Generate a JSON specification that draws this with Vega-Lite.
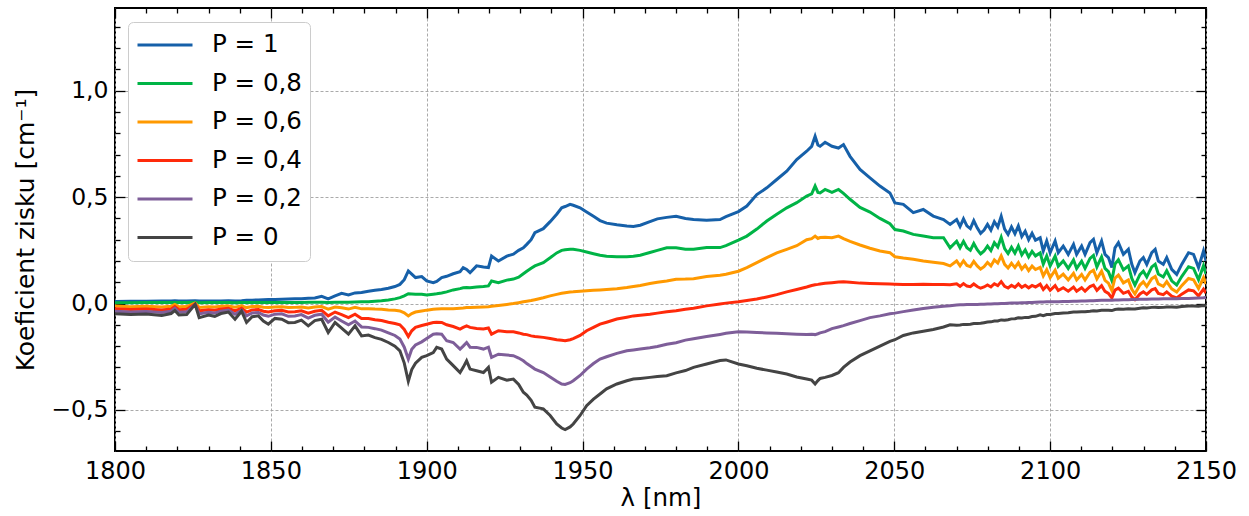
{
  "$schema": "https://vega.github.io/schema/vega-lite/v6.json",
  "width": 1091,
  "height": 443,
  "autosize": "none",
  "padding": {"left": 115, "top": 8, "right": 43, "bottom": 65},
  "background": "white",
  "config": {
    "view": {"stroke": "black", "strokeWidth": 2},
    "font": "DejaVu Sans",
    "axis": {"domain": false, "tickColor": "black", "tickWidth": 1.3, "labelColor": "black", "labelFont": "DejaVu Sans", "titleFont": "DejaVu Sans", "titleColor": "black", "titleFontWeight": "normal", "labelFlush": false, "labelOverlap": false, "labelBound": false}
  },
  "data": {"values": [
    {"l":1800,"a":0.010,"b":0.004,"c":-0.012,"d":-0.025,"e":-0.036,"f":-0.048},
    {"l":1805,"a":0.011,"b":0.004,"c":-0.015,"d":-0.028,"e":-0.040,"f":-0.052},
    {"l":1810,"a":0.011,"b":0.005,"c":-0.013,"d":-0.026,"e":-0.037,"f":-0.049},
    {"l":1815,"a":0.012,"b":0.005,"c":-0.016,"d":-0.030,"e":-0.042,"f":-0.056},
    {"l":1818,"a":0.012,"b":0.005,"c":-0.013,"d":-0.026,"e":-0.036,"f":-0.047},
    {"l":1819.2,"a":0.013,"b":0.005,"c":-0.004,"d":-0.014,"e":-0.022,"f":-0.033},
    {"l":1820.5,"a":0.012,"b":0.005,"c":-0.015,"d":-0.029,"e":-0.041,"f":-0.054},
    {"l":1823,"a":0.012,"b":0.005,"c":-0.014,"d":-0.027,"e":-0.039,"f":-0.052},
    {"l":1825.7,"a":0.013,"b":0.006,"c":0.002,"d":-0.002,"e":-0.004,"f":-0.004},
    {"l":1827,"a":0.012,"b":0.004,"c":-0.018,"d":-0.034,"e":-0.048,"f":-0.066},
    {"l":1830,"a":0.012,"b":0.005,"c":-0.015,"d":-0.029,"e":-0.041,"f":-0.054},
    {"l":1832,"a":0.012,"b":0.005,"c":-0.016,"d":-0.031,"e":-0.044,"f":-0.060},
    {"l":1834,"a":0.012,"b":0.005,"c":-0.013,"d":-0.026,"e":-0.036,"f":-0.047},
    {"l":1836.4,"a":0.013,"b":0.005,"c":-0.011,"d":-0.022,"e":-0.031,"f":-0.040},
    {"l":1838.5,"a":0.012,"b":0.004,"c":-0.017,"d":-0.035,"e":-0.050,"f":-0.074},
    {"l":1840.6,"a":0.013,"b":0.005,"c":-0.011,"d":-0.022,"e":-0.031,"f":-0.036},
    {"l":1842.2,"a":0.015,"b":0.005,"c":-0.019,"d":-0.040,"e":-0.058,"f":-0.089},
    {"l":1844,"a":0.016,"b":0.005,"c":-0.014,"d":-0.030,"e":-0.044,"f":-0.062},
    {"l":1846,"a":0.017,"b":0.005,"c":-0.013,"d":-0.028,"e":-0.042,"f":-0.058},
    {"l":1847.6,"a":0.018,"b":0.005,"c":-0.017,"d":-0.036,"e":-0.054,"f":-0.082},
    {"l":1849.2,"a":0.019,"b":0.005,"c":-0.019,"d":-0.040,"e":-0.060,"f":-0.097},
    {"l":1851.3,"a":0.019,"b":0.005,"c":-0.016,"d":-0.034,"e":-0.050,"f":-0.070},
    {"l":1853.5,"a":0.020,"b":0.005,"c":-0.015,"d":-0.032,"e":-0.048,"f":-0.074},
    {"l":1855.6,"a":0.021,"b":0.005,"c":-0.019,"d":-0.040,"e":-0.060,"f":-0.090},
    {"l":1857.7,"a":0.022,"b":0.005,"c":-0.018,"d":-0.038,"e":-0.058,"f":-0.089},
    {"l":1859.8,"a":0.023,"b":0.005,"c":-0.016,"d":-0.034,"e":-0.052,"f":-0.078},
    {"l":1862,"a":0.025,"b":0.006,"c":-0.021,"d":-0.045,"e":-0.068,"f":-0.105},
    {"l":1864.1,"a":0.026,"b":0.006,"c":-0.016,"d":-0.036,"e":-0.055,"f":-0.080},
    {"l":1866.3,"a":0.034,"b":0.006,"c":-0.014,"d":-0.032,"e":-0.050,"f":-0.074},
    {"l":1868.4,"a":0.022,"b":0.005,"c":-0.026,"d":-0.058,"e":-0.088,"f":-0.136},
    {"l":1870.6,"a":0.036,"b":0.006,"c":-0.016,"d":-0.040,"e":-0.064,"f":-0.089},
    {"l":1872.7,"a":0.048,"b":0.006,"c":-0.020,"d":-0.052,"e":-0.082,"f":-0.115},
    {"l":1874.9,"a":0.040,"b":0.006,"c":-0.026,"d":-0.066,"e":-0.100,"f":-0.144},
    {"l":1877,"a":0.050,"b":0.007,"c":-0.018,"d":-0.050,"e":-0.082,"f":-0.105},
    {"l":1879.1,"a":0.052,"b":0.008,"c":-0.025,"d":-0.070,"e":-0.110,"f":-0.152},
    {"l":1881.3,"a":0.058,"b":0.009,"c":-0.024,"d":-0.070,"e":-0.112,"f":-0.148},
    {"l":1883.4,"a":0.062,"b":0.011,"c":-0.026,"d":-0.076,"e":-0.118,"f":-0.160},
    {"l":1885.5,"a":0.066,"b":0.013,"c":-0.027,"d":-0.080,"e":-0.125,"f":-0.168},
    {"l":1887.7,"a":0.072,"b":0.017,"c":-0.030,"d":-0.088,"e":-0.138,"f":-0.183},
    {"l":1889.8,"a":0.080,"b":0.022,"c":-0.032,"d":-0.094,"e":-0.150,"f":-0.200},
    {"l":1891.4,"a":0.090,"b":0.028,"c":-0.035,"d":-0.100,"e":-0.167,"f":-0.222},
    {"l":1892.8,"a":0.112,"b":0.036,"c":-0.044,"d":-0.122,"e":-0.205,"f":-0.280},
    {"l":1894.1,"a":0.153,"b":0.046,"c":-0.058,"d":-0.155,"e":-0.261,"f":-0.365},
    {"l":1895.2,"a":0.138,"b":0.045,"c":-0.047,"d":-0.128,"e":-0.215,"f":-0.310},
    {"l":1896.4,"a":0.122,"b":0.044,"c":-0.040,"d":-0.112,"e":-0.195,"f":-0.280},
    {"l":1898.4,"a":0.127,"b":0.044,"c":-0.035,"d":-0.103,"e":-0.180,"f":-0.253},
    {"l":1900,"a":0.106,"b":0.040,"c":-0.031,"d":-0.097,"e":-0.164,"f":-0.245},
    {"l":1902.1,"a":0.098,"b":0.044,"c":-0.027,"d":-0.089,"e":-0.144,"f":-0.230},
    {"l":1903.2,"a":0.104,"b":0.046,"c":-0.026,"d":-0.088,"e":-0.142,"f":-0.206},
    {"l":1904.8,"a":0.122,"b":0.050,"c":-0.025,"d":-0.089,"e":-0.144,"f":-0.214},
    {"l":1906.4,"a":0.128,"b":0.055,"c":-0.025,"d":-0.100,"e":-0.175,"f":-0.261},
    {"l":1908.5,"a":0.140,"b":0.064,"c":-0.024,"d":-0.108,"e":-0.183,"f":-0.292},
    {"l":1910.7,"a":0.150,"b":0.070,"c":-0.022,"d":-0.120,"e":-0.214,"f":-0.324},
    {"l":1911.7,"a":0.169,"b":0.074,"c":-0.021,"d":-0.112,"e":-0.200,"f":-0.300},
    {"l":1912.8,"a":0.160,"b":0.075,"c":-0.019,"d":-0.105,"e":-0.183,"f":-0.269},
    {"l":1913.9,"a":0.145,"b":0.074,"c":-0.019,"d":-0.112,"e":-0.205,"f":-0.308},
    {"l":1916,"a":0.177,"b":0.078,"c":-0.017,"d":-0.117,"e":-0.206,"f":-0.316},
    {"l":1918.2,"a":0.172,"b":0.080,"c":-0.016,"d":-0.120,"e":-0.214,"f":-0.324},
    {"l":1919.8,"a":0.169,"b":0.083,"c":-0.015,"d":-0.115,"e":-0.205,"f":-0.300},
    {"l":1920.8,"a":0.223,"b":0.106,"c":-0.013,"d":-0.144,"e":-0.253,"f":-0.370},
    {"l":1923,"a":0.200,"b":0.098,"c":-0.009,"d":-0.128,"e":-0.238,"f":-0.347},
    {"l":1925.7,"a":0.223,"b":0.110,"c":-0.004,"d":-0.132,"e":-0.242,"f":-0.360},
    {"l":1927.8,"a":0.232,"b":0.115,"c":0.000,"d":-0.133,"e":-0.245,"f":-0.355},
    {"l":1929.5,"a":0.250,"b":0.124,"c":0.004,"d":-0.138,"e":-0.256,"f":-0.380},
    {"l":1931,"a":0.262,"b":0.140,"c":0.008,"d":-0.144,"e":-0.269,"f":-0.417},
    {"l":1932.1,"a":0.278,"b":0.152,"c":0.011,"d":-0.146,"e":-0.282,"f":-0.430},
    {"l":1933.5,"a":0.300,"b":0.166,"c":0.014,"d":-0.152,"e":-0.296,"f":-0.455},
    {"l":1934.7,"a":0.333,"b":0.177,"c":0.018,"d":-0.155,"e":-0.308,"f":-0.487},
    {"l":1937.4,"a":0.352,"b":0.192,"c":0.027,"d":-0.159,"e":-0.324,"f":-0.495},
    {"l":1939.6,"a":0.385,"b":0.215,"c":0.036,"d":-0.164,"e":-0.345,"f":-0.526},
    {"l":1941.7,"a":0.420,"b":0.238,"c":0.043,"d":-0.170,"e":-0.365,"f":-0.566},
    {"l":1943.3,"a":0.450,"b":0.250,"c":0.048,"d":-0.173,"e":-0.378,"f":-0.585},
    {"l":1944.4,"a":0.456,"b":0.253,"c":0.051,"d":-0.175,"e":-0.380,"f":-0.592},
    {"l":1946,"a":0.466,"b":0.255,"c":0.054,"d":-0.170,"e":-0.372,"f":-0.580},
    {"l":1947,"a":0.462,"b":0.255,"c":0.055,"d":-0.165,"e":-0.363,"f":-0.566},
    {"l":1949.2,"a":0.450,"b":0.250,"c":0.058,"d":-0.150,"e":-0.338,"f":-0.526},
    {"l":1951.3,"a":0.430,"b":0.242,"c":0.060,"d":-0.128,"e":-0.308,"f":-0.480},
    {"l":1953.5,"a":0.410,"b":0.234,"c":0.062,"d":-0.112,"e":-0.282,"f":-0.449},
    {"l":1955.6,"a":0.390,"b":0.227,"c":0.064,"d":-0.097,"e":-0.261,"f":-0.425},
    {"l":1957.7,"a":0.378,"b":0.222,"c":0.066,"d":-0.088,"e":-0.250,"f":-0.401},
    {"l":1961,"a":0.370,"b":0.220,"c":0.070,"d":-0.073,"e":-0.234,"f":-0.378},
    {"l":1964.2,"a":0.364,"b":0.220,"c":0.075,"d":-0.064,"e":-0.222,"f":-0.363},
    {"l":1966.3,"a":0.362,"b":0.222,"c":0.080,"d":-0.058,"e":-0.218,"f":-0.355},
    {"l":1968.5,"a":0.368,"b":0.227,"c":0.085,"d":-0.055,"e":-0.214,"f":-0.352},
    {"l":1971.6,"a":0.385,"b":0.240,"c":0.094,"d":-0.050,"e":-0.208,"f":-0.347},
    {"l":1974,"a":0.398,"b":0.250,"c":0.100,"d":-0.045,"e":-0.202,"f":-0.343},
    {"l":1977,"a":0.405,"b":0.262,"c":0.106,"d":-0.039,"e":-0.191,"f":-0.339},
    {"l":1980,"a":0.410,"b":0.262,"c":0.114,"d":-0.034,"e":-0.184,"f":-0.326},
    {"l":1983,"a":0.400,"b":0.255,"c":0.115,"d":-0.027,"e":-0.172,"f":-0.315},
    {"l":1985.6,"a":0.395,"b":0.255,"c":0.117,"d":-0.022,"e":-0.165,"f":-0.300},
    {"l":1989.8,"a":0.392,"b":0.263,"c":0.127,"d":-0.011,"e":-0.155,"f":-0.284},
    {"l":1994.1,"a":0.395,"b":0.263,"c":0.133,"d":-0.002,"e":-0.145,"f":-0.268},
    {"l":1996,"a":0.408,"b":0.272,"c":0.138,"d":0.002,"e":-0.140,"f":-0.265},
    {"l":2000,"a":0.432,"b":0.298,"c":0.152,"d":0.008,"e":-0.133,"f":-0.284},
    {"l":2002.7,"a":0.458,"b":0.317,"c":0.169,"d":0.014,"e":-0.134,"f":-0.292},
    {"l":2005.9,"a":0.512,"b":0.350,"c":0.192,"d":0.021,"e":-0.136,"f":-0.304},
    {"l":2009.1,"a":0.544,"b":0.388,"c":0.216,"d":0.031,"e":-0.138,"f":-0.313},
    {"l":2012.3,"a":0.583,"b":0.420,"c":0.238,"d":0.042,"e":-0.140,"f":-0.322},
    {"l":2015.5,"a":0.622,"b":0.450,"c":0.255,"d":0.055,"e":-0.142,"f":-0.331},
    {"l":2018.7,"a":0.677,"b":0.474,"c":0.272,"d":0.066,"e":-0.144,"f":-0.345},
    {"l":2021.9,"a":0.716,"b":0.505,"c":0.300,"d":0.078,"e":-0.145,"f":-0.355},
    {"l":2023.5,"a":0.739,"b":0.515,"c":0.305,"d":0.085,"e":-0.144,"f":-0.360},
    {"l":2024.6,"a":0.786,"b":0.552,"c":0.317,"d":0.088,"e":-0.146,"f":-0.378},
    {"l":2025.5,"a":0.745,"b":0.522,"c":0.306,"d":0.090,"e":-0.142,"f":-0.362},
    {"l":2026.2,"a":0.739,"b":0.520,"c":0.310,"d":0.092,"e":-0.138,"f":-0.352},
    {"l":2027.8,"a":0.758,"b":0.536,"c":0.312,"d":0.095,"e":-0.132,"f":-0.347},
    {"l":2030,"a":0.739,"b":0.522,"c":0.309,"d":0.098,"e":-0.118,"f":-0.338},
    {"l":2032.1,"a":0.731,"b":0.536,"c":0.317,"d":0.101,"e":-0.110,"f":-0.325},
    {"l":2033.7,"a":0.747,"b":0.518,"c":0.305,"d":0.102,"e":-0.104,"f":-0.300},
    {"l":2035.8,"a":0.692,"b":0.490,"c":0.292,"d":0.100,"e":-0.094,"f":-0.275},
    {"l":2039,"a":0.630,"b":0.452,"c":0.275,"d":0.096,"e":-0.080,"f":-0.245},
    {"l":2042.2,"a":0.591,"b":0.430,"c":0.260,"d":0.094,"e":-0.066,"f":-0.222},
    {"l":2045.4,"a":0.552,"b":0.400,"c":0.247,"d":0.093,"e":-0.058,"f":-0.200},
    {"l":2048.6,"a":0.520,"b":0.375,"c":0.239,"d":0.092,"e":-0.048,"f":-0.178},
    {"l":2050.2,"a":0.473,"b":0.348,"c":0.220,"d":0.091,"e":-0.045,"f":-0.170},
    {"l":2052.9,"a":0.466,"b":0.341,"c":0.214,"d":0.090,"e":-0.038,"f":-0.150},
    {"l":2056.1,"a":0.427,"b":0.325,"c":0.208,"d":0.089,"e":-0.030,"f":-0.138},
    {"l":2059.3,"a":0.442,"b":0.317,"c":0.200,"d":0.091,"e":-0.023,"f":-0.130},
    {"l":2062.5,"a":0.411,"b":0.309,"c":0.194,"d":0.090,"e":-0.017,"f":-0.122},
    {"l":2065.8,"a":0.395,"b":0.309,"c":0.188,"d":0.089,"e":-0.013,"f":-0.110},
    {"l":2067.9,"a":0.372,"b":0.262,"c":0.177,"d":0.088,"e":-0.010,"f":-0.100},
    {"l":2070.0,"a":0.395,"b":0.293,"c":0.200,"d":0.093,"e":-0.007,"f":-0.102},
    {"l":2071.1,"a":0.362,"b":0.262,"c":0.177,"d":0.081,"e":-0.006,"f":-0.101},
    {"l":2072.2,"a":0.398,"b":0.292,"c":0.201,"d":0.094,"e":-0.006,"f":-0.098},
    {"l":2073.3,"a":0.365,"b":0.262,"c":0.179,"d":0.082,"e":-0.005,"f":-0.098},
    {"l":2074.4,"a":0.352,"b":0.250,"c":0.173,"d":0.079,"e":-0.005,"f":-0.097},
    {"l":2075.5,"a":0.390,"b":0.282,"c":0.198,"d":0.092,"e":-0.004,"f":-0.094},
    {"l":2076.6,"a":0.356,"b":0.253,"c":0.177,"d":0.080,"e":-0.004,"f":-0.094},
    {"l":2077.7,"a":0.330,"b":0.233,"c":0.162,"d":0.072,"e":-0.003,"f":-0.093},
    {"l":2078.8,"a":0.345,"b":0.247,"c":0.173,"d":0.078,"e":-0.003,"f":-0.090},
    {"l":2079.9,"a":0.372,"b":0.270,"c":0.193,"d":0.087,"e":-0.002,"f":-0.087},
    {"l":2081.0,"a":0.345,"b":0.249,"c":0.177,"d":0.078,"e":-0.002,"f":-0.086},
    {"l":2082.1,"a":0.385,"b":0.286,"c":0.205,"d":0.093,"e":-0.001,"f":-0.082},
    {"l":2083.2,"a":0.360,"b":0.266,"c":0.190,"d":0.084,"e":-0.001,"f":-0.082},
    {"l":2084.3,"a":0.410,"b":0.311,"c":0.224,"d":0.103,"e":0.000,"f":-0.077},
    {"l":2085.4,"a":0.350,"b":0.258,"c":0.184,"d":0.081,"e":0.000,"f":-0.078},
    {"l":2086.5,"a":0.325,"b":0.235,"c":0.167,"d":0.073,"e":0.001,"f":-0.076},
    {"l":2087.6,"a":0.360,"b":0.264,"c":0.189,"d":0.086,"e":0.002,"f":-0.072},
    {"l":2088.7,"a":0.328,"b":0.237,"c":0.169,"d":0.076,"e":0.002,"f":-0.071},
    {"l":2089.8,"a":0.365,"b":0.270,"c":0.192,"d":0.092,"e":0.003,"f":-0.067},
    {"l":2090.9,"a":0.315,"b":0.229,"c":0.162,"d":0.076,"e":0.004,"f":-0.068},
    {"l":2092.0,"a":0.340,"b":0.252,"c":0.180,"d":0.086,"e":0.004,"f":-0.065},
    {"l":2093.1,"a":0.300,"b":0.219,"c":0.155,"d":0.074,"e":0.005,"f":-0.065},
    {"l":2094.2,"a":0.330,"b":0.245,"c":0.176,"d":0.085,"e":0.005,"f":-0.061},
    {"l":2095.3,"a":0.298,"b":0.224,"c":0.160,"d":0.078,"e":0.006,"f":-0.060},
    {"l":2096.8,"a":0.309,"b":0.238,"c":0.170,"d":0.091,"e":0.007,"f":-0.053},
    {"l":2097.8,"a":0.247,"b":0.185,"c":0.130,"d":0.066,"e":0.007,"f":-0.057},
    {"l":2098.9,"a":0.294,"b":0.224,"c":0.159,"d":0.084,"e":0.008,"f":-0.052},
    {"l":2100.0,"a":0.239,"b":0.177,"c":0.122,"d":0.062,"e":0.008,"f":-0.051},
    {"l":2101.6,"a":0.294,"b":0.223,"c":0.157,"d":0.084,"e":0.009,"f":-0.047},
    {"l":2102.6,"a":0.239,"b":0.175,"c":0.119,"d":0.061,"e":0.009,"f":-0.047},
    {"l":2104.2,"a":0.270,"b":0.200,"c":0.138,"d":0.074,"e":0.010,"f":-0.044},
    {"l":2105.8,"a":0.231,"b":0.165,"c":0.111,"d":0.058,"e":0.010,"f":-0.043},
    {"l":2107.5,"a":0.278,"b":0.205,"c":0.142,"d":0.077,"e":0.011,"f":-0.040},
    {"l":2108.5,"a":0.231,"b":0.165,"c":0.111,"d":0.058,"e":0.011,"f":-0.040},
    {"l":2110.1,"a":0.270,"b":0.199,"c":0.137,"d":0.074,"e":0.012,"f":-0.039},
    {"l":2111.2,"a":0.231,"b":0.165,"c":0.111,"d":0.058,"e":0.012,"f":-0.038},
    {"l":2112.8,"a":0.286,"b":0.212,"c":0.147,"d":0.080,"e":0.013,"f":-0.036},
    {"l":2113.9,"a":0.302,"b":0.226,"c":0.157,"d":0.087,"e":0.013,"f":-0.034},
    {"l":2115.0,"a":0.239,"b":0.172,"c":0.116,"d":0.062,"e":0.014,"f":-0.035},
    {"l":2116.5,"a":0.294,"b":0.219,"c":0.152,"d":0.084,"e":0.015,"f":-0.032},
    {"l":2117.6,"a":0.231,"b":0.165,"c":0.109,"d":0.057,"e":0.015,"f":-0.032},
    {"l":2118.7,"a":0.216,"b":0.150,"c":0.096,"d":0.048,"e":0.016,"f":-0.032},
    {"l":2119.8,"a":0.169,"b":0.108,"c":0.061,"d":0.026,"e":0.016,"f":-0.033},
    {"l":2120.8,"a":0.262,"b":0.186,"c":0.120,"d":0.063,"e":0.017,"f":-0.028},
    {"l":2121.9,"a":0.286,"b":0.206,"c":0.134,"d":0.072,"e":0.017,"f":-0.026},
    {"l":2123.5,"a":0.231,"b":0.158,"c":0.097,"d":0.048,"e":0.018,"f":-0.027},
    {"l":2125.1,"a":0.255,"b":0.177,"c":0.111,"d":0.057,"e":0.018,"f":-0.024},
    {"l":2126.2,"a":0.184,"b":0.118,"c":0.067,"d":0.031,"e":0.019,"f":-0.026},
    {"l":2127.2,"a":0.145,"b":0.087,"c":0.045,"d":0.018,"e":0.019,"f":-0.026},
    {"l":2128.8,"a":0.200,"b":0.136,"c":0.087,"d":0.045,"e":0.020,"f":-0.022},
    {"l":2129.9,"a":0.216,"b":0.152,"c":0.102,"d":0.055,"e":0.020,"f":-0.020},
    {"l":2131.0,"a":0.184,"b":0.125,"c":0.081,"d":0.043,"e":0.020,"f":-0.021},
    {"l":2132.6,"a":0.239,"b":0.172,"c":0.117,"d":0.064,"e":0.021,"f":-0.018},
    {"l":2133.7,"a":0.255,"b":0.185,"c":0.127,"d":0.070,"e":0.021,"f":-0.017},
    {"l":2134.7,"a":0.200,"b":0.139,"c":0.092,"d":0.048,"e":0.021,"f":-0.019},
    {"l":2136.3,"a":0.184,"b":0.125,"c":0.081,"d":0.042,"e":0.022,"f":-0.018},
    {"l":2137.4,"a":0.216,"b":0.154,"c":0.103,"d":0.055,"e":0.022,"f":-0.016},
    {"l":2139.0,"a":0.161,"b":0.107,"c":0.069,"d":0.035,"e":0.023,"f":-0.016},
    {"l":2140.6,"a":0.137,"b":0.087,"c":0.054,"d":0.026,"e":0.023,"f":-0.017},
    {"l":2142.2,"a":0.184,"b":0.127,"c":0.084,"d":0.044,"e":0.024,"f":-0.014},
    {"l":2144.4,"a":0.239,"b":0.173,"c":0.118,"d":0.064,"e":0.024,"f":-0.011},
    {"l":2146.0,"a":0.231,"b":0.165,"c":0.112,"d":0.060,"e":0.025,"f":-0.011},
    {"l":2147.6,"a":0.169,"b":0.112,"c":0.071,"d":0.036,"e":0.026,"f":-0.013},
    {"l":2149.2,"a":0.247,"b":0.178,"c":0.122,"d":0.068,"e":0.027,"f":-0.009},
    {"l":2150.0,"a":0.200,"b":0.139,"c":0.092,"d":0.049,"e":0.028,"f":-0.011}
  ]},
  "transform": [{"fold": ["a", "b", "c", "d", "e", "f"], "as": ["series", "gain"]}],
  "layer": [
    {
      "mark": {"type": "line", "strokeWidth": 3, "clip": true},
      "encoding": {
        "x": {"field": "l", "type": "quantitative", "scale": {"domain": [1800, 2150], "nice": false, "zero": false},
          "axis": {"orient": "bottom", "values": [1800, 1850, 1900, 1950, 2000, 2050, 2100, 2150], "format": "d", "tickSize": -10, "labelPadding": 18, "labelFontSize": 24, "title": "λ [nm]", "titleFontSize": 24.5, "titlePadding": 3, "grid": true, "gridDash": [3, 2], "gridColor": "#a0a0a0", "gridWidth": 0.9}},
        "y": {"field": "gain", "type": "quantitative", "scale": {"domain": [-0.693, 1.389], "nice": false, "zero": false},
          "axis": {"orient": "left", "values": [-0.5, 0, 0.5, 1], "labelExpr": "replace(format(datum.value, '.1f'), '.', ',')", "tickSize": -10, "labelPadding": 17, "labelFontSize": 23.5, "title": "Koeficient zisku [cm⁻¹]", "titleFontSize": 25, "titlePadding": 12, "grid": true, "gridDash": [3, 2], "gridColor": "#a0a0a0", "gridWidth": 0.9}},
        "color": {"field": "series", "type": "nominal",
          "scale": {"domain": ["a", "b", "c", "d", "e", "f"], "range": ["#1660a9", "#00b446", "#ff9900", "#ff2a0a", "#7e5e99", "#444444"]},
          "legend": {"orient": "none", "legendX": 13, "legendY": 14, "title": null, "symbolType": "stroke", "symbolSize": 3025, "symbolStrokeWidth": 3, "clipHeight": 30, "rowPadding": 8.5, "labelOffset": 18, "labelFontSize": 24.5, "labelColor": "black", "labelFont": "DejaVu Sans", "padding": 8, "fillColor": "white", "strokeColor": "#cccccc", "cornerRadius": 5,
            "labelExpr": "{'a': 'P = 1', 'b': 'P = 0,8', 'c': 'P = 0,6', 'd': 'P = 0,4', 'e': 'P = 0,2', 'f': 'P = 0'}[datum.label]"}}
      }
    },
    {
      "transform": [{"filter": "datum.l == 1800 && datum.series == 'a'"}],
      "mark": {"type": "point", "opacity": 0},
      "encoding": {
        "x": {"field": "l", "type": "quantitative", "axis": {"orient": "bottom", "values": [1810, 1820, 1830, 1840, 1860, 1870, 1880, 1890, 1910, 1920, 1930, 1940, 1960, 1970, 1980, 1990, 2010, 2020, 2030, 2040, 2060, 2070, 2080, 2090, 2110, 2120, 2130, 2140], "tickSize": -5, "labels": false, "grid": false, "title": null}},
        "y": {"field": "gain", "type": "quantitative", "axis": {"orient": "left", "values": [-0.6, -0.4, -0.3, -0.2, -0.1, 0.1, 0.2, 0.3, 0.4, 0.6, 0.7, 0.8, 0.9, 1.1, 1.2, 1.3], "tickSize": -5, "labels": false, "grid": false, "title": null}}
      }
    },
    {
      "transform": [{"filter": "datum.l == 1800 && datum.series == 'a'"}],
      "mark": {"type": "point", "opacity": 0},
      "encoding": {
        "x": {"field": "l", "type": "quantitative", "axis": {"orient": "top", "values": [1800, 1850, 1900, 1950, 2000, 2050, 2100, 2150], "tickSize": -10, "labels": false, "grid": false, "title": null}},
        "y": {"field": "gain", "type": "quantitative", "axis": {"orient": "right", "values": [-0.5, 0, 0.5, 1], "tickSize": -10, "labels": false, "grid": false, "title": null}}
      }
    },
    {
      "transform": [{"filter": "datum.l == 1800 && datum.series == 'a'"}],
      "mark": {"type": "point", "opacity": 0},
      "encoding": {
        "x": {"field": "l", "type": "quantitative", "axis": {"orient": "top", "values": [1810, 1820, 1830, 1840, 1860, 1870, 1880, 1890, 1910, 1920, 1930, 1940, 1960, 1970, 1980, 1990, 2010, 2020, 2030, 2040, 2060, 2070, 2080, 2090, 2110, 2120, 2130, 2140], "tickSize": -5, "labels": false, "grid": false, "title": null}},
        "y": {"field": "gain", "type": "quantitative", "axis": {"orient": "right", "values": [-0.6, -0.4, -0.3, -0.2, -0.1, 0.1, 0.2, 0.3, 0.4, 0.6, 0.7, 0.8, 0.9, 1.1, 1.2, 1.3], "tickSize": -5, "labels": false, "grid": false, "title": null}}
      }
    }
  ],
  "resolve": {"axis": {"x": "independent", "y": "independent"}}
}
